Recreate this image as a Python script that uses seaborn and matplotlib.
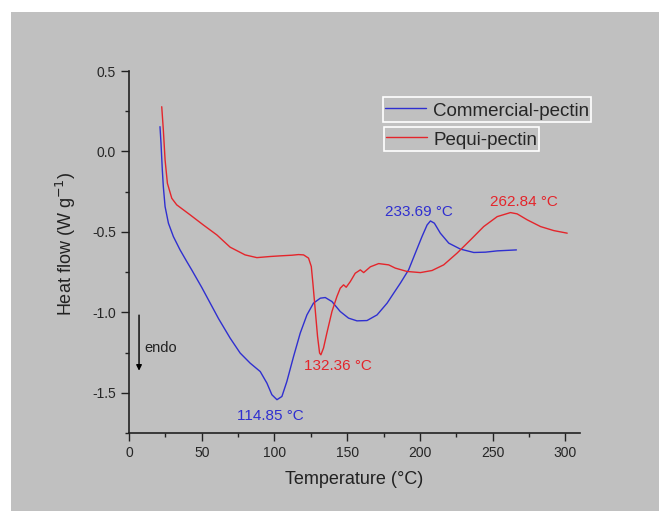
import numpy as np
import pandas as pd
import matplotlib
matplotlib.use('Agg')
import matplotlib.pyplot as plt
from matplotlib.patches import Rectangle
from matplotlib.ticker import MultipleLocator, FormatStrFormatter
import seaborn as sns

sns.set_style('ticks')
plt.rcParams['font.family'] = ['Liberation Sans', 'DejaVu Sans']

# Commercial pectin DSC curve
comm_temp = [21.3, 22.0, 22.9, 23.6, 24.8, 27.1, 30.5, 35.1, 39.7, 43.1, 50.0, 61.6, 69.5,
             76.4, 83.3, 90.2, 94.8, 98.2, 101.7, 105.1, 108.5, 113.1, 117.7, 122.3, 126.8,
             131.5, 134.9, 139.5, 145.2, 150.9, 156.7, 163.6, 170.5, 177.4, 182.0, 186.5,
             192.2, 196.8, 201.4, 204.9, 207.2, 209.9, 214.0, 219.8, 227.8, 237.0, 245.0,
             253.1, 266.3]
comm_flow = [0.154, 0.051, -0.115, -0.219, -0.343, -0.446, -0.529, -0.612, -0.684, -0.736,
             -0.845, -1.04, -1.16, -1.253, -1.316, -1.368, -1.44, -1.512, -1.543, -1.523,
             -1.43, -1.275, -1.129, -1.016, -0.943, -0.912, -0.908, -0.933, -0.995, -1.036,
             -1.053, -1.051, -1.016, -0.943, -0.88, -0.819, -0.736, -0.632, -0.529, -0.457,
             -0.432, -0.446, -0.508, -0.57, -0.607, -0.628, -0.626, -0.618, -0.612]

# Pequi pectin DSC curve
pequi_temp = [22.5, 23.6, 24.8, 26.4, 29.4, 32.8, 42.0, 51.1, 60.4, 69.5, 79.8, 87.9, 97.0,
              103.9, 112.0, 116.5, 120.0, 123.4, 125.3, 126.4, 128.0, 129.6, 131.0, 131.9,
              133.7, 136.0, 139.5, 142.9, 145.2, 147.5, 149.3, 152.1, 155.5, 159.0, 161.3,
              165.9, 171.6, 178.5, 183.0, 191.1, 200.3, 208.3, 216.3, 225.5, 234.7, 243.8,
              253.1, 262.2, 266.8, 273.7, 282.9, 292.0, 301.2]
pequi_flow = [0.278, 0.134, -0.053, -0.198, -0.291, -0.332, -0.394, -0.457, -0.519, -0.595,
              -0.643, -0.66, -0.653, -0.649, -0.645, -0.641, -0.643, -0.663, -0.715, -0.819,
              -0.984, -1.15, -1.253, -1.264, -1.222, -1.129, -0.995, -0.902, -0.85, -0.829,
              -0.844, -0.809, -0.757, -0.736, -0.753, -0.717, -0.697, -0.705, -0.725, -0.746,
              -0.753, -0.74, -0.705, -0.632, -0.55, -0.467, -0.405, -0.38, -0.388, -0.425,
              -0.467, -0.492, -0.508]

peak_labels = ['114.85 °C', '132.36 °C', '233.69 °C', '262.84 °C']
peak_x = [97, 143.7, 199, 271.2]
peak_y = [-1.643, -1.336, -0.378, -0.312]

blue = '#2f2fd0'
red = '#e4252b'
gray = '#c0c0c0'
ink = '#222222'

fig = plt.figure(figsize=(6.59, 5.11), dpi=100, facecolor='white')
fig.patches.append(Rectangle((11 / 659, 0), 1, 1 - 12 / 511, transform=fig.transFigure,
                             facecolor=gray, edgecolor='none', zorder=-10))
ax = fig.add_axes([129 / 659, 1 - 433 / 511, 451 / 659, 362 / 511])
ax.set_facecolor(gray)

df_comm = pd.DataFrame({'T': comm_temp, 'HF': comm_flow})
df_pequi = pd.DataFrame({'T': pequi_temp, 'HF': pequi_flow})
sns.lineplot(data=df_comm, x='T', y='HF', color=blue, linewidth=1, sort=False,
             estimator=None, ax=ax)
sns.lineplot(data=df_pequi, x='T', y='HF', color=red, linewidth=1, sort=False,
             estimator=None, ax=ax)
h_comm, h_pequi = ax.get_lines()[0], ax.get_lines()[1]

ax.set_xlim(0, 310)
ax.set_ylim(-1.75, 0.5)
ax.xaxis.set_major_locator(MultipleLocator(50))
ax.xaxis.set_minor_locator(MultipleLocator(25))
ax.yaxis.set_major_locator(MultipleLocator(0.5))
ax.yaxis.set_minor_locator(MultipleLocator(0.25))
ax.yaxis.set_major_formatter(FormatStrFormatter('%.1f'))
ax.tick_params(which='major', direction='out', length=6, width=1, labelsize=10, color=ink)
ax.tick_params(which='minor', direction='out', length=3, width=1, color=ink)
sns.despine(ax=ax)
for s in ['left', 'bottom']:
    ax.spines[s].set_color(ink)
    ax.spines[s].set_linewidth(1.2)

ax.set_xlabel('Temperature (°C)', fontsize=13, color=ink)
ax.set_ylabel('Heat flow (W g$^{-1}$)', fontsize=13, color=ink)
ax.xaxis.set_label_coords(0.5, -0.105)
ax.yaxis.set_label_coords(-0.113, 0.522)

for lab, tx, ty, c in zip(peak_labels, peak_x, peak_y, [blue, red, blue, red]):
    ax.text(tx, ty, lab, color=c, fontsize=11, ha='center', va='center')

ax.annotate('', xy=(6.9, -1.38), xytext=(6.9, -1.0),
            arrowprops=dict(arrowstyle='-|>', color='black', lw=1, mutation_scale=8))
ax.text(10.3, -1.22, 'endo', fontsize=10.5, color=ink, va='center', ha='left')

leg_kw = dict(loc='upper left', frameon=True, fancybox=False, edgecolor='white',
              facecolor=gray, framealpha=1, borderpad=0.1, handlelength=2.2,
              handleheight=1.3, handletextpad=0.35, borderaxespad=0, fontsize=13.5)
leg1 = ax.legend([h_comm], ['Commercial-pectin'], bbox_to_anchor=(0.564, 0.927), **leg_kw)
leg1.get_frame().set_linewidth(1.2)
ax.add_artist(leg1)
leg2 = ax.legend([h_pequi], ['Pequi-pectin'], bbox_to_anchor=(0.565, 0.846), **leg_kw)
leg2.get_frame().set_linewidth(1.2)

fig.savefig('out.png', dpi=100, facecolor='white')
